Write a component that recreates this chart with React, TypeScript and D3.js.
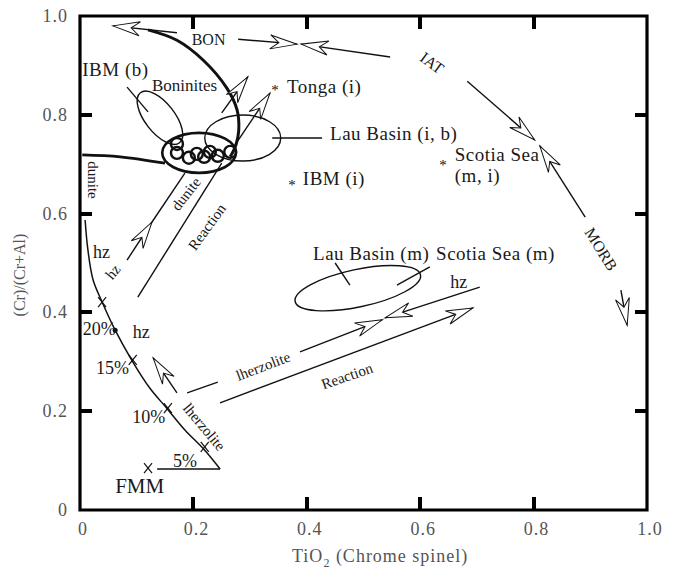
import * as d3 from 'd3';

const W = 676;
const H = 569;
const FONT = "'Liberation Serif', 'Times New Roman', serif";

const xTicks = [0, 0.2, 0.4, 0.6, 0.8, 1.0];
const yTicks = [0, 0.2, 0.4, 0.6, 0.8, 1.0];

// thick boninite trend (TiO2, Cr#)
const boniniteCurve = [
  [0.120, 0.972], [0.171, 0.951], [0.217, 0.911], [0.259, 0.854],
  [0.277, 0.810], [0.280, 0.769], [0.275, 0.739], [0.265, 0.715],
];
// thick dunite trend from the left axis
const duniteTrend = [[0.004, 0.719], [0.071, 0.715], [0.150, 0.702]];

// partial melting curve from FMM
const meltCurve = [
  [0.009, 0.587], [0.014, 0.526], [0.023, 0.466], [0.039, 0.421],
  [0.062, 0.364], [0.093, 0.300], [0.123, 0.247], [0.153, 0.206],
  [0.185, 0.162], [0.220, 0.121], [0.247, 0.083],
];
const meltMarks = [[0.039, 0.421], [0.093, 0.304], [0.155, 0.206], [0.220, 0.128], [0.120, 0.085]];
const meltDot = [0.062, 0.364];

// small boninite spinel circles
const spinelCircles = [
  [0.171, 0.741], [0.171, 0.723], [0.192, 0.713], [0.206, 0.721],
  [0.219, 0.715], [0.229, 0.725], [0.243, 0.717], [0.265, 0.725],
];

// fields: centre, semi axes (x units, y units), rotation
const fields = [
  { name: 'boninite', cx: 0.210, cy: 0.723, rx: 0.065, ry: 0.0405, angle: 0, thick: true },
  { name: 'IBM (b)', cx: 0.141, cy: 0.794, rx: 0.056, ry: 0.030, angle: 52, thick: false },
  { name: 'Lau Basin (i, b)', cx: 0.287, cy: 0.753, rx: 0.067, ry: 0.0466, angle: 0, thick: false },
  { name: 'Lau Basin (m)', cx: 0.490, cy: 0.449, rx: 0.113, ry: 0.038, angle: -12, thick: false },
];

// arrows: tail -> tip
const arrows = [
  { from: [0.171, 0.966], to: [0.058, 0.980] },
  { from: [0.279, 0.953], to: [0.383, 0.943] },
  { from: [0.547, 0.917], to: [0.390, 0.943] },
  { from: [0.683, 0.868], to: [0.802, 0.749] },
  { from: [0.891, 0.593], to: [0.811, 0.737] },
  { from: [0.954, 0.445], to: [0.965, 0.374] },
  { from: [0.250, 0.804], to: [0.296, 0.877] },
  { from: [0.270, 0.733], to: [0.335, 0.844] },
  { from: [0.171, 0.237], to: [0.129, 0.308] },
  { from: [0.388, 0.320], to: [0.533, 0.385] },
  { from: [0.705, 0.451], to: [0.538, 0.389] },
  { from: [0.247, 0.217], to: [0.693, 0.409] },
  { from: [0.083, 0.506], to: [0.127, 0.583] },
];

// plain segments
const segments = [
  [[0.127, 0.583], [0.185, 0.682]],
  [[0.102, 0.431], [0.250, 0.702]],
  [[0.189, 0.237], [0.243, 0.259]],
  [[0.247, 0.083], [0.136, 0.083]],
  [[0.083, 0.856], [0.120, 0.806]],
  [[0.339, 0.753], [0.427, 0.753]],
  [[0.450, 0.500], [0.476, 0.455]],
  [[0.559, 0.455], [0.617, 0.492]],
];

const stars = [[0.344, 0.854], [0.374, 0.662], [0.640, 0.702]];

const labels = [
  { text: 'BON', at: [0.197, 0.941], size: 16 },
  { text: 'IBM (b)', at: [0.004, 0.879], size: 19 },
  { text: 'Boninites', at: [0.127, 0.848], size: 17 },
  { text: 'Tonga (i)', at: [0.365, 0.844], size: 19 },
  { text: 'Lau Basin (i, b)', at: [0.441, 0.749], size: 19 },
  { text: 'IBM (i)', at: [0.393, 0.658], size: 19 },
  { text: 'Scotia Sea', at: [0.661, 0.706], size: 19 },
  { text: '(m, i)', at: [0.661, 0.664], size: 19 },
  { text: 'Lau Basin (m)', at: [0.411, 0.506], size: 19 },
  { text: 'Scotia Sea (m)', at: [0.628, 0.506], size: 19 },
  { text: 'hz', at: [0.653, 0.449], size: 18 },
  { text: 'hz', at: [0.023, 0.510], size: 18 },
  { text: 'hz', at: [0.093, 0.348], size: 18 },
  { text: '20%', at: [0.005, 0.354], size: 18 },
  { text: '15%', at: [0.028, 0.275], size: 18 },
  { text: '10%', at: [0.092, 0.176], size: 18 },
  { text: '5%', at: [0.164, 0.087], size: 18 },
  { text: 'FMM', at: [0.062, 0.034], size: 21 },
];

const rotLabels = [
  { text: 'IAT', at: [0.621, 0.905], angle: 36, size: 16 },
  { text: 'MORB', at: [0.919, 0.528], angle: 58, size: 16 },
  { text: 'dunite', at: [0.023, 0.668], angle: 90, size: 15 },
  { text: 'dunite', at: [0.187, 0.640], angle: -52, size: 15 },
  { text: 'hz', at: [0.058, 0.482], angle: -50, size: 15 },
  { text: 'Reaction', at: [0.224, 0.573], angle: -54, size: 15 },
  { text: 'lherzolite', at: [0.219, 0.168], angle: 50, size: 15 },
  { text: 'lherzolite', at: [0.323, 0.291], angle: -21, size: 15 },
  { text: 'Reaction', at: [0.471, 0.271], angle: -19, size: 15 },
];

const x = d3.scaleLinear().domain([0, 1]).range([80, 647]);
const y = d3.scaleLinear().domain([0, 1]).range([510, 16]);

function Arrowhead({ from, to }) {
  const x1 = x(from[0]), y1 = y(from[1]), x2 = x(to[0]), y2 = y(to[1]);
  const ang = (Math.atan2(y2 - y1, x2 - x1) * 180) / Math.PI;
  const L = 27, Wd = 7;
  return (
    <g>
      <line x1={x1} y1={y1} x2={x2} y2={y2} stroke="#111" strokeWidth={1.4} />
      <polygon
        points={`0,0 ${-L},${-Wd} ${-0.68 * L},0 ${-L},${Wd}`}
        transform={`translate(${x2},${y2}) rotate(${ang})`}
        fill="#fff" stroke="#111" strokeWidth={1}
      />
    </g>
  );
}

const fmt = (d) => (d === 0 ? '0' : d3.format('.1f')(d));

export default function App() {
  const smooth = d3.line().x((d) => x(d[0])).y((d) => y(d[1])).curve(d3.curveCatmullRom);
  const innerX = xTicks.filter((t) => t > 0 && t < 1);
  const innerY = yTicks.filter((t) => t > 0 && t < 1);
  const r = (v) => Math.round(v);
  // frame with the inward ticks folded into one continuous outline
  const frame =
    `M${x(0)},${y(0)}` +
    innerX.map((t) => `H${r(x(t))}V${y(0) - 13}V${y(0)}`).join('') + `H${x(1)}` +
    innerY.map((t) => `V${r(y(t))}H${x(1) - 12}H${x(1)}`).join('') + `V${y(1)}` +
    [...innerX].reverse().map((t) => `H${r(x(t))}V${y(1) + 13}V${y(1)}`).join('') + `H${x(0)}` +
    [...innerY].reverse().map((t) => `V${r(y(t))}H${x(0) + 12}H${x(0)}`).join('') + 'Z';

  return (
    <svg width={W} height={H} style={{ position: 'fixed', left: 0, top: 0, background: '#fff' }}
      fontFamily={FONT}>
      <g fill="#555" fontSize={18} letterSpacing={1}>
        {xTicks.map((t) => (
          <text key={'xl' + t} x={x(t) + 3} y={535} textAnchor="middle">{fmt(t)}</text>
        ))}
        {yTicks.map((t) => (
          <text key={'yl' + t} x={x(0) - 12} y={y(t) + 6} textAnchor="end">{fmt(t)}</text>
        ))}
      </g>

      <path d={frame} fill="none" stroke="#000" strokeWidth={3.2} strokeLinejoin="miter" strokeMiterlimit={10} />
      {/* tick stubs again as filled bars */}
      <g fill="#000">
        {innerX.map((t) => (
          <rect key={'b' + t} x={r(x(t)) - 2} y={y(0) - 13} width={4} height={13} />
        ))}
        {innerX.map((t) => (
          <rect key={'t' + t} x={r(x(t)) - 2} y={y(1)} width={4} height={13} />
        ))}
        {innerY.map((t) => (
          <rect key={'l' + t} x={x(0)} y={r(y(t)) - 2} width={12} height={4} />
        ))}
        {innerY.map((t) => (
          <rect key={'r' + t} x={x(1) - 12} y={r(y(t)) - 2} width={12} height={4} />
        ))}
      </g>

      {/* fields */}
      {fields.map((f) => {
        const cx = x(f.cx), cy = y(f.cy);
        return (
          <ellipse key={f.name} cx={cx} cy={cy} rx={x(f.rx) - x(0)} ry={y(0) - y(f.ry)}
            transform={`rotate(${f.angle} ${cx} ${cy})`} fill="none" stroke="#111"
            strokeWidth={f.thick ? 2.6 : 1.4} />
        );
      })}
      {spinelCircles.map((c, i) => (
        <circle key={i} cx={x(c[0])} cy={y(c[1])} r={6} fill="none" stroke="#111" strokeWidth={2.4} />
      ))}

      {/* trends */}
      <path d={smooth(boniniteCurve)} fill="none" stroke="#111" strokeWidth={3} />
      <path d={smooth(duniteTrend)} fill="none" stroke="#111" strokeWidth={2.8} />
      <path d={smooth(meltCurve)} fill="none" stroke="#111" strokeWidth={1.5} />

      {segments.map((s, i) => (
        <line key={i} x1={x(s[0][0])} y1={y(s[0][1])} x2={x(s[1][0])} y2={y(s[1][1])}
          stroke="#111" strokeWidth={1.4} />
      ))}
      {arrows.map((a, i) => <Arrowhead key={i} from={a.from} to={a.to} />)}

      {meltMarks.map((m, i) => {
        const cx = x(m[0]), cy = y(m[1]);
        return (
          <g key={i} stroke="#111" strokeWidth={1.2}>
            <line x1={cx - 4} y1={cy - 5} x2={cx + 4} y2={cy + 5} />
            <line x1={cx - 4} y1={cy + 5} x2={cx + 4} y2={cy - 5} />
          </g>
        );
      })}
      <circle cx={x(meltDot[0])} cy={y(meltDot[1])} r={2.5} fill="#111" />

      {stars.map((s, i) => (
        <text key={i} x={x(s[0])} y={y(s[1]) + 7} textAnchor="middle" fontSize={15} fill="#111">*</text>
      ))}

      {labels.map((l, i) => (
        <text key={i} x={x(l.at[0])} y={y(l.at[1])} fontSize={l.size} fill="#1a1a1a"
          letterSpacing={l.size === 19 ? 0.5 : 0}>{l.text}</text>
      ))}
      {rotLabels.map((l, i) => (
        <text key={i} x={x(l.at[0])} y={y(l.at[1])} fontSize={l.size} fill="#1a1a1a"
          textAnchor="middle" dominantBaseline="central"
          transform={`rotate(${l.angle} ${x(l.at[0])} ${y(l.at[1])})`}>{l.text}</text>
      ))}

      {/* axis titles */}
      <text x={25} y={275} fontSize={16} fill="#555" textAnchor="middle" transform="rotate(-90 25 275)">
        (Cr)/(Cr+Al)
      </text>
      <text x={292} y={562} fontSize={18} fill="#555" letterSpacing={1}>
        TiO<tspan fontSize={12} dy={5}>2</tspan><tspan dy={-5}> (Chrome spinel)</tspan>
      </text>
    </svg>
  );
}
